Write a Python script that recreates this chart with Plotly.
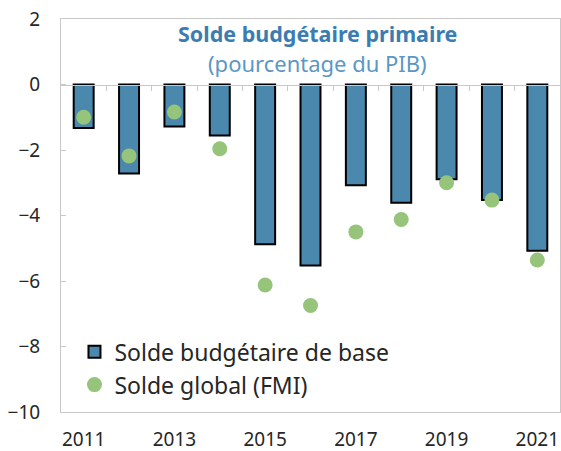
import plotly.graph_objects as go

years = [2011, 2012, 2013, 2014, 2015, 2016, 2017, 2018, 2019, 2020, 2021]
solde_base = [-1.33, -2.72, -1.28, -1.56, -4.88, -5.53, -3.08, -3.61, -2.89, -3.53, -5.08]
solde_global = [-1.00, -2.18, -0.84, -1.96, -6.12, -6.75, -4.50, -4.12, -3.00, -3.53, -5.36]
y_ticks = [2, 0, -2, -4, -6, -8, -10]
x_ticks = [2011, 2013, 2015, 2017, 2019, 2021]

title_main = "Solde budgétaire primaire"
title_sub = "(pourcentage du PIB)"
name_base = "Solde budgétaire de base"
name_global = "Solde global (FMI)"

FONT = "Noto Sans"
BAR_COLOR = "#4a89ad"
DOT_COLOR = "#95c47a"
AXIS_COLOR = "#c8c8c8"
TEXT_COLOR = "#262626"

fig = go.Figure()
fig.add_trace(go.Bar(
    x=years, y=solde_base, name=name_base, width=0.44,
    marker=dict(color=BAR_COLOR, line=dict(color="black", width=2)),
))
fig.add_trace(go.Scatter(
    x=years, y=solde_global, name=name_global, mode="markers",
    marker=dict(color=DOT_COLOR, size=15, line=dict(width=0)),
))
# invisible trace to host the boundary tick axis on the zero line
boundaries = [y + 0.5 for y in years[:-1]]
fig.add_trace(go.Scatter(x=[years[0]], y=[0], xaxis="x2", mode="markers",
                         marker=dict(opacity=0), showlegend=False, hoverinfo="skip"))

yr = [min(y_ticks), max(y_ticks)]
zero_pos = (0 - yr[0]) / (yr[1] - yr[0])

fig.update_layout(
    width=561, height=451,
    margin=dict(l=61, r=1, t=19, b=39, autoexpand=False),
    paper_bgcolor="white", plot_bgcolor="white",
    font=dict(family=FONT, size=19, color=TEXT_COLOR),
    showlegend=True,
    legend=dict(x=0.027, y=0.208, xanchor="left", yanchor="top",
                bgcolor="rgba(0,0,0,0)", font=dict(size=23, color=TEXT_COLOR),
                itemwidth=30, tracegroupgap=0),
    xaxis=dict(range=[years[0] - 0.5, years[-1] + 0.5], tickmode="array",
               tickvals=x_ticks, ticktext=[str(v) for v in x_ticks],
               showgrid=False, zeroline=False, showline=True, linecolor=AXIS_COLOR,
               linewidth=1, mirror=True, ticks="", ticklabelstandoff=10,
               automargin=False),
    xaxis2=dict(range=[years[0] - 0.5, years[-1] + 0.5], overlaying="x",
                anchor="free", position=zero_pos, side="bottom",
                tickmode="array", tickvals=boundaries, ticks="outside",
                ticklen=5, tickcolor=AXIS_COLOR, showticklabels=False,
                showline=True, linecolor=AXIS_COLOR, linewidth=1, showgrid=False,
                zeroline=False, automargin=False),
    yaxis=dict(range=yr, tickmode="array", tickvals=y_ticks,
               showgrid=False, zeroline=False, showline=True, linecolor=AXIS_COLOR,
               linewidth=1, mirror=True, ticks="inside", ticklen=5,
               tickcolor=AXIS_COLOR, ticklabelstandoff=16, automargin=False),
    annotations=[
        dict(text="<b>" + title_main + "</b>", x=0.515, y=0.964, xref="paper", yref="paper",
             xanchor="center", yanchor="middle",
             showarrow=False, font=dict(size=21.5, color="#3b7db0", family=FONT)),
        dict(text=title_sub, x=0.515, y=0.888, xref="paper", yref="paper",
             xanchor="center", yanchor="middle",
             showarrow=False, font=dict(size=22, color="#5b97c4", family=FONT)),
    ],
)

fig.write_html(
    "out.html",
    config={"displayModeBar": False},
    post_script="document.body.style.margin='0';document.body.style.overflow='hidden';",
)
